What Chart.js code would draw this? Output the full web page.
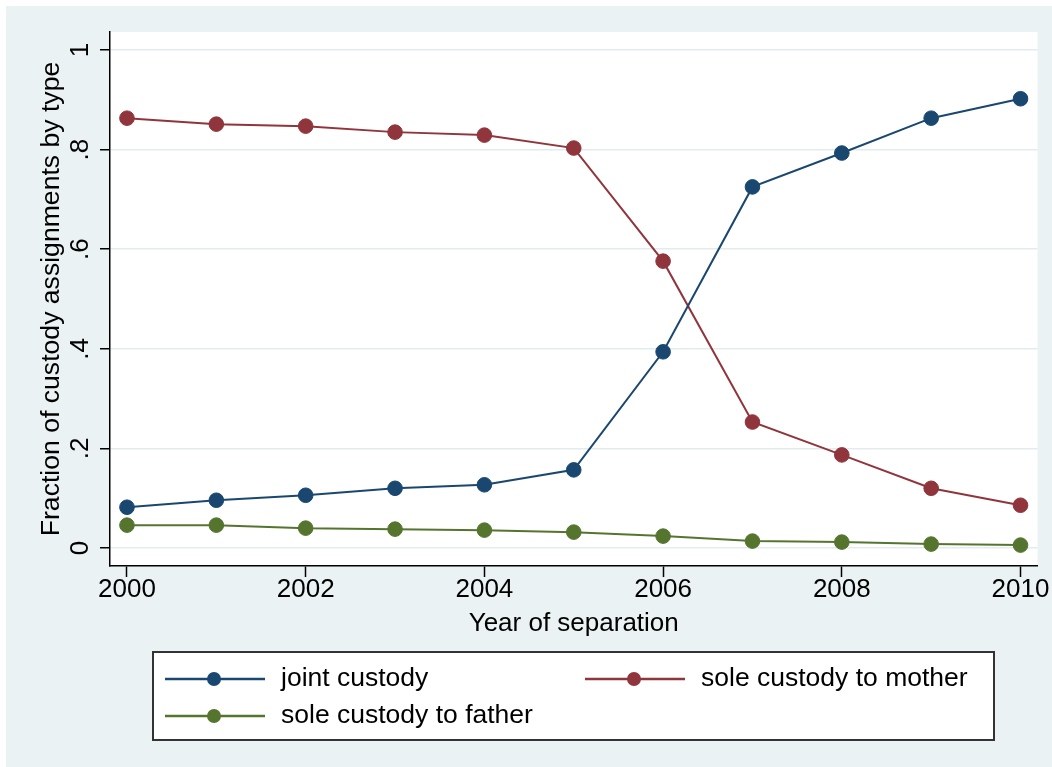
<!DOCTYPE html>
<html><head><meta charset="utf-8">
<script src="https://cdn.jsdelivr.net/npm/chart.js@4"></script>
<style>html,body{margin:0;padding:0;background:#fff;overflow:hidden;} #c{display:block;}</style>
</head><body>
<canvas id="c" width="1052" height="767" style="width:1052px;height:767px"></canvas>
<script>
const years = [2000, 2001, 2002, 2003, 2004, 2005, 2006, 2007, 2008, 2009, 2010];
const jointCustody = [0.082, 0.096, 0.106, 0.120, 0.127, 0.157, 0.394, 0.725, 0.793, 0.863, 0.902];
const soleMother   = [0.863, 0.851, 0.847, 0.835, 0.829, 0.803, 0.576, 0.253, 0.187, 0.120, 0.086];
const soleFather   = [0.046, 0.046, 0.040, 0.038, 0.036, 0.032, 0.024, 0.014, 0.012, 0.008, 0.006];
const xTicks = [2000, 2002, 2004, 2006, 2008, 2010];
const yTicks = [0, 0.2, 0.4, 0.6, 0.8, 1];
const yTickLabels = ['0', '.2', '.4', '.6', '.8', '1'];
const seriesLabels = ['joint custody', 'sole custody to mother', 'sole custody to father'];
const seriesColors = ['#1a476f', '#90353b', '#55752f'];
const xTitle = 'Year of separation';
const yTitle = 'Fraction of custody assignments by type';

const FONT = '"Liberation Sans", Arial, Helvetica, sans-serif';
const pts = arr => years.map((yr, i) => ({x: yr, y: arr[i]}));

const bgPlugin = {
  id: 'bg',
  beforeDraw(chart) {
    const {ctx, chartArea: a} = chart;
    ctx.save();
    ctx.fillStyle = '#ffffff';
    ctx.fillRect(0, 0, chart.width, chart.height);
    ctx.fillStyle = '#eaf2f3';
    ctx.fillRect(6, 6, chart.width - 6, chart.height - 6);
    ctx.fillStyle = '#ffffff';
    ctx.fillRect(a.left, a.top, a.right - a.left, a.bottom - a.top);
    ctx.restore();
  }
};

const legendPlugin = {
  id: 'stataLegend',
  afterDraw(chart) {
    const ctx = chart.ctx;
    ctx.save();
    ctx.fillStyle = '#ffffff';
    ctx.fillRect(153, 652, 841, 88);
    ctx.strokeStyle = '#333333';
    ctx.lineWidth = 2;
    ctx.strokeRect(153, 652, 841, 88);
    const pos = [[165, 679], [585, 679], [165, 716]];
    chart.data.datasets.forEach((ds, i) => {
      const [x, y] = pos[i];
      ctx.strokeStyle = ds.borderColor;
      ctx.lineWidth = 2.5;
      ctx.beginPath(); ctx.moveTo(x, y); ctx.lineTo(x + 100, y); ctx.stroke();
      ctx.fillStyle = ds.borderColor;
      ctx.beginPath(); ctx.arc(x + 49, y, 7, 0, Math.PI * 2); ctx.fill();
      ctx.fillStyle = '#000';
      ctx.font = '26.5px ' + FONT;
      ctx.textBaseline = 'middle';
      ctx.textAlign = 'left';
      ctx.fillText(ds.label, x + 116, y);
    });
    ctx.restore();
  }
};

const mk = (arr, i) => ({
  label: seriesLabels[i],
  data: pts(arr),
  borderColor: seriesColors[i],
  backgroundColor: seriesColors[i],
  pointBackgroundColor: seriesColors[i],
  pointBorderColor: seriesColors[i],
  pointBorderWidth: 1,
  pointRadius: 7.3,
  borderWidth: 2,
  tension: 0,
  clip: false
});

new Chart(document.getElementById('c'), {
  type: 'line',
  data: { datasets: [mk(jointCustody, 0), mk(soleMother, 1), mk(soleFather, 2)] },
  plugins: [bgPlugin, legendPlugin],
  options: {
    responsive: false,
    animation: false,
    devicePixelRatio: 1,
    layout: { padding: { left: 6, top: 32, right: 14.5, bottom: 121 } },
    plugins: { legend: { display: false }, tooltip: { enabled: false }, title: { display: false } },
    scales: {
      x: {
        type: 'linear',
        min: 1999.81, max: 2010.19,
        afterBuildTicks: s => { s.ticks = xTicks.map(v => ({value: v})); },
        afterFit: s => { s.height = 80; },
        ticks: { callback: v => String(v), autoSkip: false, maxRotation: 0, minRotation: 0, padding: 0,
                 color: '#000', font: { family: FONT, size: 26, lineHeight: 1 } },
        grid: { display: true, drawOnChartArea: false, drawTicks: true, tickLength: 11, tickColor: '#000', tickWidth: 1.5 },
        border: { display: true, color: '#000', width: 1.5 },
        title: { display: true, text: xTitle, color: '#000', font: { family: FONT, size: 26, lineHeight: 1 }, padding: { top: 0, bottom: 9 } }
      },
      y: {
        type: 'linear',
        min: -0.036, max: 1.036,
        afterBuildTicks: s => { s.ticks = yTicks.map(v => ({value: v})); },
        afterFit: s => { s.width = 104; },
        ticks: { callback: (v, i) => yTickLabels[i], autoSkip: false, minRotation: 90, maxRotation: 90, crossAlign: 'center', padding: 8,
                 color: '#000', font: { family: FONT, size: 26, lineHeight: 1 } },
        grid: { display: true, drawOnChartArea: true, color: '#e3eced', lineWidth: 1.5, drawTicks: true, tickLength: 10, tickColor: '#000', tickWidth: 1.5 },
        border: { display: true, color: '#000', width: 1.5 },
        title: { display: true, text: yTitle, color: '#000', font: { family: FONT, size: 26.6, lineHeight: 1 }, padding: { top: 32, bottom: 0 } }
      }
    }
  }
});
</script>
</body></html>
